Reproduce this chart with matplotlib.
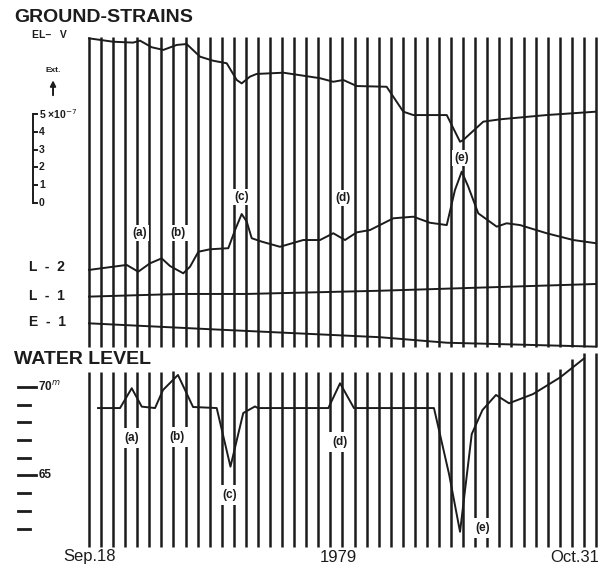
import numpy as np
import matplotlib
matplotlib.use('Agg')
import matplotlib.pyplot as plt

plt.rcParams['font.family'] = ['Liberation Sans', 'DejaVu Sans']

ink = '#1c1c1c'

# one vertical mark per day
n_days = 43
days = np.arange(n_days)

# ground strain records (offset traces, units of 1e-7)
elv_day = [0.0, 2.0, 3.65, 4.23, 5.19, 6.16, 7.27, 8.09, 9.2, 10.3, 11.41, 12.24, 12.65,
           13.34, 13.89, 16.1, 19.14, 20.24, 21.07, 22.18, 24.66, 26.04, 26.87, 29.64,
           30.74, 31.01, 32.67, 34.05, 37.9, 42.0]
elv_val = [9.25, 9.06, 9.01, 9.12, 8.75, 8.6, 8.88, 8.93, 8.22, 7.99, 7.85, 6.91, 6.72,
           7.1, 7.25, 7.32, 7.01, 6.81, 6.91, 6.57, 6.53, 5.13, 4.94, 4.94,
           3.44, 3.54, 4.57, 4.7, 4.94, 5.13]

l2_day = [0.0, 3.12, 4.08, 5.05, 6.02, 6.71, 7.81, 8.37, 9.06, 10.02, 11.54, 12.1, 12.65,
          13.07, 13.48, 14.31, 15.82, 17.75, 19.14, 20.24, 21.21, 22.18, 23.28, 25.21,
          26.87, 28.25, 29.64, 30.32, 30.88, 31.42, 32.25, 33.78, 34.6, 35.71, 37.92,
          40.12, 42.0]
l2_val = [-3.76, -3.48, -3.86, -3.39, -3.11, -3.54, -3.95, -3.58, -2.74, -2.6, -2.54, -1.52,
          -0.62, -1.05, -1.98, -2.17, -2.46, -2.08, -2.08, -1.7, -2.08, -1.65, -1.52, -0.86,
          -0.77, -1.11, -1.24, 0.73, 1.76, 0.92, -0.58, -1.33, -1.14, -1.24, -1.7,
          -2.08, -2.26]

l1_day = [0.0, 7.54, 13.07, 24.1, 42.0]
l1_val = [-5.26, -5.11, -5.11, -4.93, -4.55]

e1_day = [0.0, 10.3, 24.1, 29.64, 42.0]
e1_val = [-6.76, -7.1, -7.54, -7.85, -8.07]

# water level (m)
wl_day = [0.75, 2.57, 3.54, 4.37, 5.47, 6.13, 7.37, 8.62, 10.58, 11.72, 12.78, 13.75, 14.0,
          19.83, 20.8, 21.95, 28.58, 29.83, 30.74, 31.71, 32.6, 33.72, 34.8, 36.79, 39.03,
          41.01]
wl_m = [68.81, 68.81, 69.93, 68.89, 68.81, 69.83, 70.68, 68.87, 68.81, 65.5, 68.53, 68.9,
        68.81, 68.81, 70.21, 68.81, 68.81, 65.08, 61.82, 67.34, 68.7, 69.55, 69.08, 69.6,
        70.54, 71.61]

event_names = ['(a)', '(b)', '(c)', '(d)', '(e)']
strain_lbl_day = [4.23, 7.37, 12.65, 21.07, 30.88]
strain_lbl_val = [-1.69, -1.69, 0.35, 0.26, 2.51]
wl_lbl_day = [3.56, 7.29, 11.68, 20.8, 32.64]
wl_lbl_m = [67.12, 67.18, 63.9, 66.9, 62.03]

scale_ticks = [0, 1, 2, 3, 4, 5]
wl_ticks = [62, 63, 64, 65, 66, 67, 68, 69, 70]

fig = plt.figure(figsize=(6.10, 5.67), dpi=100)

# ---- ground strains ----
ax1 = fig.add_axes([0, 1 - 352 / 567, 1, 352 / 567])
ax1.set_xlim(-7.374, 43.165)
ax1.set_ylim(-8.371, 11.404)
ax1.axis('off')

ax1.vlines(days, -8.1, 9.33, color=ink, lw=1.8, zorder=1)
for d, v in [(elv_day, elv_val), (l2_day, l2_val), (l1_day, l1_val), (e1_day, e1_val)]:
    ax1.plot(d, v, color=ink, lw=1.4, zorder=3, solid_joinstyle='round')

for name, x, y in zip(event_names, strain_lbl_day, strain_lbl_val):
    ax1.text(x, y, name, ha='center', va='center', fontsize=8.5, fontweight='bold',
             color=ink, zorder=2, bbox=dict(fc='white', ec='none', pad=1.5))

ax1.text(-6.21, 10.42, 'GROUND-STRAINS', fontsize=14, fontweight='bold', color=ink,
         ha='left', va='center')
ax1.text(-4.72, 9.44, 'EL–   V', fontsize=7.5, fontweight='bold', color=ink,
         ha='left', va='center')

# extension arrow
ax1.annotate('', xy=(-2.98, 7.05), xytext=(-2.98, 5.9),
             arrowprops=dict(arrowstyle='-|>', color=ink, lw=1.4, mutation_scale=8))
ax1.text(-2.98, 7.45, 'Ext.', fontsize=6, fontweight='bold', color=ink,
         ha='center', va='center')

# scale bar
ax1.plot([-4.64, -4.64], [0, 5], color=ink, lw=1.4)
ax1.hlines(scale_ticks, -4.64, -4.25, color=ink, lw=1.4)
for t in scale_ticks:
    lbl = '5 ×10$^{-7}$' if t == 5 else str(t)
    ax1.text(-4.15, t, lbl, fontsize=7.5, fontweight='bold', color=ink,
             ha='left', va='center')

ax1.text(-4.97, -3.62, 'L  -  2', fontsize=10, fontweight='bold', color=ink,
         ha='left', va='center')
ax1.text(-4.97, -5.22, 'L  -  1', fontsize=10, fontweight='bold', color=ink,
         ha='left', va='center')
ax1.text(-4.97, -6.69, 'E  -  1', fontsize=10, fontweight='bold', color=ink,
         ha='left', va='center')

# ---- water level ----
ax2 = fig.add_axes([0, 0, 1, 215 / 567])
ax2.set_xlim(-7.374, 43.165)
ax2.set_ylim(59.83, 71.977)
ax2.axis('off')

tops = np.minimum(np.maximum(70.85, np.interp(days, wl_day, wl_m) + 0.5), 71.9)
ax2.vlines(days, 60.96, tops, color=ink, lw=1.8, zorder=1)
ax2.plot(wl_day, wl_m, color=ink, lw=1.4, zorder=3, solid_joinstyle='round')

for name, x, y in zip(event_names, wl_lbl_day, wl_lbl_m):
    ax2.text(x, y, name, ha='center', va='center', fontsize=8.5, fontweight='bold',
             color=ink, zorder=2, bbox=dict(fc='white', ec='none', pad=3))

ax2.text(-6.21, 71.53, 'WATER LEVEL', fontsize=14, fontweight='bold', color=ink,
         ha='left', va='center')
for t in wl_ticks:
    x_end = -4.39 if t in (65, 70) else -4.89
    ax2.plot([-5.88, x_end], [t, t], color=ink, lw=2)
ax2.text(-4.2, 70, '70$^{m}$', fontsize=8.5, fontweight='bold', color=ink,
         ha='left', va='center')
ax2.text(-4.2, 65, '65', fontsize=8.5, fontweight='bold', color=ink,
         ha='left', va='center')

ax2.text(0.08, 60.45, 'Sep.18', fontsize=12, color=ink, ha='center', va='center')
ax2.text(20.63, 60.34, '1979', fontsize=12, color=ink, ha='center', va='center')
ax2.text(40.26, 60.34, 'Oct.31', fontsize=12, color=ink, ha='center', va='center')

fig.savefig('out.png', dpi=100, facecolor='white')
